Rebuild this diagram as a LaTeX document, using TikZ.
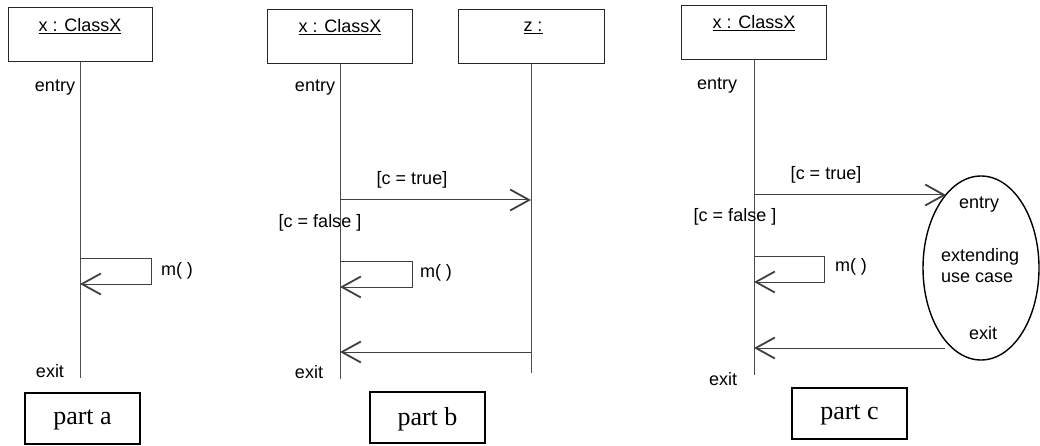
\documentclass[tikz,border=0pt]{standalone}
\usepackage{fontspec}
\setmainfont{Liberation Sans}
\newfontfamily\serifpart{Liberation Serif}
\usetikzlibrary{arrows.meta,shapes.geometric}
\begin{document}
\begin{tikzpicture}[x=1pt,y=-1pt,
  every node/.style={font=\fontsize{18}{21}\selectfont, inner sep=0pt, outer sep=0pt},
  objbox/.style={draw=black!85, line width=1pt, minimum width=#1, minimum height=54pt},
  life/.style={draw=black!70, line width=1pt},
  msg/.style={draw=black!75, line width=1pt, -{Straight Barb[length=19pt,width=21pt,line width=1.8pt]}},
  partbox/.style={draw=black, line width=2pt, minimum width=115pt, minimum height=51pt, text depth=2pt, font=\serifpart\fontsize{26}{30}\selectfont},
  usecase/.style={ellipse, draw=black, line width=1.4pt, minimum width=116pt, minimum height=184pt},
]
\useasboundingbox (0,0) rectangle (1040,446);

% ---------- part a ----------
\node[objbox=144pt] (ax) at (80,35) {};
\node (axl) at (80,26) {\underline{x : ClassX}};
\coordinate (aend) at (80,378);
\draw[life] (ax.south) -- (aend);
\node (aentry) at (55,88) {entry};
\node (aexit) at (50,371) {exit};
\coordinate (as1) at (80,258);
\coordinate (as2) at (151,258);
\coordinate (as3) at (151,284);
\coordinate (as4) at (80,284);
\draw[msg] (as1) -- (as2) -- (as3) -- (as4);
\node (am) at (177,271) {m( )};
\node[partbox] (pa) at (82.5,418) {part a};

% ---------- part b ----------
\node[objbox=145pt] (bx) at (340,37) {};
\node (bxl) at (340,27) {\underline{x : ClassX}};
\node[objbox=146pt] (bz) at (531,37) {};
\node (bzl) at (533,28) {\underline{z :}};
\coordinate (bxend) at (340,379);
\coordinate (bzend) at (531,373);
\draw[life] (bx.south) -- (bxend);
\draw[life] (bz.south) -- (bzend);
\node (bentry) at (315,88) {entry};
\node (bexit) at (309,372) {exit};
\coordinate (bt1) at (340,200);
\coordinate (bt2) at (531,200);
\draw[msg] (bt1) -- (bt2);
\node (btl) at (412,180) {[c = true]};
\node (bfl) at (320,223) {[c = false ]};
\coordinate (bs1) at (340,261);
\coordinate (bs2) at (412,261);
\coordinate (bs3) at (412,287);
\coordinate (bs4) at (340,287);
\draw[msg] (bs1) -- (bs2) -- (bs3) -- (bs4);
\node (bm) at (436,273) {m( )};
\coordinate (br1) at (531,352);
\coordinate (br2) at (340,352);
\draw[msg] (br1) -- (br2);
\node[partbox] (pb) at (427.5,417.5) {part b};

% ---------- part c ----------
\node[objbox=145pt] (cx) at (754,32.5) {};
\node (cxl) at (754,23) {\underline{x : ClassX}};
\coordinate (cend) at (754,375);
\draw[life] (cx.south) -- (cend);
\node (centry) at (717,86) {entry};
\node (cexit) at (723,379) {exit};
\node[usecase] (uc) at (981,268) {};
\node (ucentry) at (979,205) {entry};
\node[anchor=west] (ucext) at (941,257) {extending};
\node[anchor=west] (ucuse) at (941,278) {use case};
\node (ucexit) at (983,333) {exit};
\coordinate (ct1) at (754,195);
\coordinate (ct2) at (946,195);
\draw[msg] (ct1) -- (ct2);
\node (ctl) at (826,175) {[c = true]};
\node (cfl) at (735,217) {[c = false ]};
\coordinate (cs1) at (754,256);
\coordinate (cs2) at (824,256);
\coordinate (cs3) at (824,282);
\coordinate (cs4) at (754,282);
\draw[msg] (cs1) -- (cs2) -- (cs3) -- (cs4);
\node (cm) at (851,267) {m( )};
\coordinate (cr1) at (945,348);
\coordinate (cr2) at (754,348);
\draw[msg] (cr1) -- (cr2);
\node[partbox] (pc) at (849.5,413.5) {part c};
\end{tikzpicture}
\end{document}
